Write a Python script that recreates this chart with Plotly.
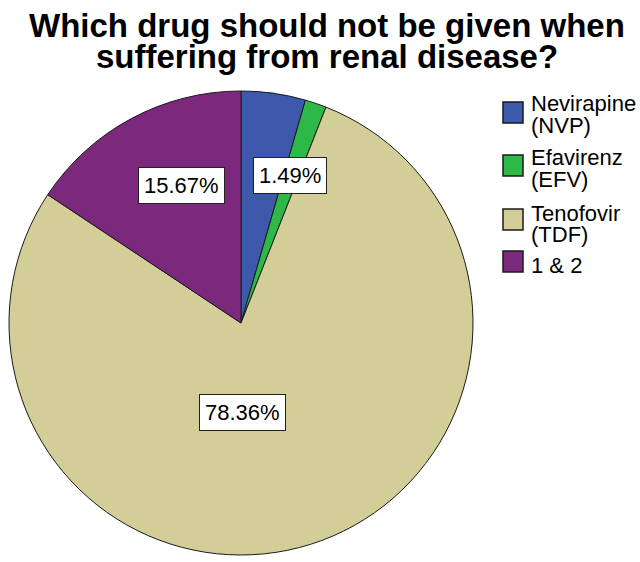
import plotly.graph_objects as go

# ---- data ----
categories = ["Nevirapine (NVP)", "Efavirenz (EFV)", "Tenofovir (TDF)", "1 & 2"]
legend_lines = [["Nevirapine", "(NVP)"], ["Efavirenz", "(EFV)"], ["Tenofovir", "(TDF)"], ["1 & 2"]]
percentages = [4.48, 1.49, 78.36, 15.67]
shown_labels = [False, True, True, True]
colors = ["#3E58AC", "#2EB848", "#D3CE97", "#7C287D"]
title_lines = ["Which drug should not be given when", "suffering from renal disease?"]

W, H = 640, 562
def px(x):
    return x / W
def py(y):
    return 1 - y / H

fig = go.Figure()
fig.add_trace(go.Pie(
    labels=categories,
    values=percentages,
    sort=False,
    direction="clockwise",
    rotation=0,
    marker=dict(colors=colors, line=dict(color="#1a1a1a", width=1)),
    textinfo="none",
    hoverinfo="label+percent",
    showlegend=False,
    domain=dict(x=[px(9), px(473)], y=[py(555), py(91)]),
))

annotations = []
# title lines
title_mid = [25.5, 56.5]
for line, ym in zip(title_lines, title_mid):
    annotations.append(dict(
        text=f"<b>{line}</b>", x=px(327), y=py(ym), xref="paper", yref="paper",
        xanchor="center", yanchor="middle", showarrow=False,
        font=dict(family="Liberation Sans, Arial, sans-serif", size=33, color="#000000"),
    ))

# data labels (boxed)
label_pos = {1: (290, 175), 2: (242, 412), 3: (181, 185)}
for i, v in enumerate(percentages):
    if not shown_labels[i]:
        continue
    x, y = label_pos[i]
    annotations.append(dict(
        text=f"{v:.2f}%", x=px(x), y=py(y), xref="paper", yref="paper",
        xanchor="center", yanchor="middle", showarrow=False,
        font=dict(family="Liberation Sans, Arial, sans-serif", size=22, color="#000000"),
        bgcolor="#FFFFFF", bordercolor="#222222", borderwidth=1, borderpad=5,
    ))

# manual legend
swatch_top = [102, 155, 209, 251]
line_mids = [[103.3, 125.3], [157.3, 179.3], [213.3, 234.3], [265.3]]
shapes = []
for i, c in enumerate(colors):
    t = swatch_top[i]
    shapes.append(dict(type="rect", xref="paper", yref="paper",
                       x0=px(503), x1=px(523), y0=py(t + 21), y1=py(t),
                       fillcolor=c, line=dict(color="#1a1a1a", width=1.5)))
    for txt, ym in zip(legend_lines[i], line_mids[i]):
        annotations.append(dict(
            text=txt, x=px(529), y=py(ym), xref="paper", yref="paper",
            xanchor="left", yanchor="middle", showarrow=False,
            font=dict(family="Liberation Sans, Arial, sans-serif", size=22, color="#000000"),
        ))

fig.update_layout(
    width=W, height=H,
    margin=dict(l=0, r=0, t=0, b=0),
    paper_bgcolor="#FFFFFF",
    plot_bgcolor="#FFFFFF",
    annotations=annotations,
    shapes=shapes,
)

fig.write_html("out.html")
